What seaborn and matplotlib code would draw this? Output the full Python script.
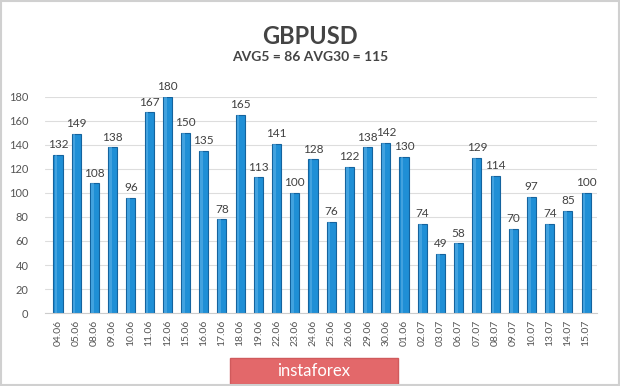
import numpy as np
import pandas as pd
import matplotlib
matplotlib.use("Agg")
import matplotlib.pyplot as plt
import seaborn as sns
from matplotlib.patches import Rectangle

# === DATA ===
dates = ["04.06", "05.06", "08.06", "09.06", "10.06", "11.06", "12.06", "15.06",
         "16.06", "17.06", "18.06", "19.06", "22.06", "23.06", "24.06", "25.06",
         "26.06", "29.06", "30.06", "01.06", "02.07", "03.07", "06.07", "07.07",
         "08.07", "09.07", "10.07", "13.07", "14.07", "15.07"]
values = [132, 149, 108, 138, 96, 167, 180, 150, 135, 78, 165, 113, 141, 100, 128,
          76, 122, 138, 142, 130, 74, 49, 58, 129, 114, 70, 97, 74, 85, 100]
y_ticks = [0, 20, 40, 60, 80, 100, 120, 140, 160, 180]
title = "GBPUSD"
subtitle = "AVG5 = 86 AVG30 = 115"

sns.set_style("white")
plt.rcParams['font.family'] = ['Lato', 'DejaVu Sans']

df = pd.DataFrame({"date": dates, "value": values})

fig = plt.figure(figsize=(6.2, 3.86), dpi=100)
ax = fig.add_axes([0.073, 0.189, 0.89, 0.56])

sns.barplot(data=df, x="date", y="value", ax=ax, color="#1f8fd6",
            width=0.5, edgecolor="#14639e", linewidth=0.8, saturation=1)

# light highlight strip on the left part of each bar (pseudo 3D look)
for p in list(ax.patches):
    x0, w, h = p.get_x(), p.get_width(), p.get_height()
    ax.add_patch(Rectangle((x0 + w * 0.12, 0), w * 0.3, h,
                           facecolor="#5fb3e8", edgecolor="none", alpha=0.55, zorder=3))

for i, v in enumerate(values):
    ax.text(i, v + 4, str(v), ha="center", va="bottom", fontsize=8.5, color="#404040")

ax.set_ylim(0, 180)
ax.set_yticks(y_ticks)
ax.set_xlim(-0.7, len(values) - 0.4)
ax.yaxis.grid(True, color="#dddddd", linewidth=0.8)
ax.set_axisbelow(True)
for s in ax.spines.values():
    s.set_visible(False)
ax.spines["bottom"].set_visible(True)
ax.spines["bottom"].set_color("#cccccc")
ax.tick_params(axis="y", labelsize=8, colors="#555555", length=0, pad=12)
ax.tick_params(axis="x", labelsize=7.5, colors="#555555", length=0, rotation=90, pad=5)
ax.set_xlabel("")
ax.set_ylabel("")

fig.text(0.5, 0.905, title, ha="center", va="center", fontsize=17,
         fontweight="bold", color="#444444")
fig.text(0.5, 0.852, subtitle, ha="center", va="center", fontsize=10,
         fontweight="bold", color="#444444")

# instaforex badge
fig.patches.append(Rectangle((0.371, 0.005), 0.271, 0.068, transform=fig.transFigure,
                             facecolor="#e3686a", edgecolor="#d05a5c", figure=fig))
fig.text(0.5065, 0.04, "instaforex", ha="center", va="center", fontsize=12,
         color="white")

# outer border
fig.patches.append(Rectangle((0.002, 0.003), 0.996, 0.994, transform=fig.transFigure,
                             facecolor="none", edgecolor="#d0d0d0", linewidth=1.5, figure=fig))

fig.savefig("out.png", dpi=100)
